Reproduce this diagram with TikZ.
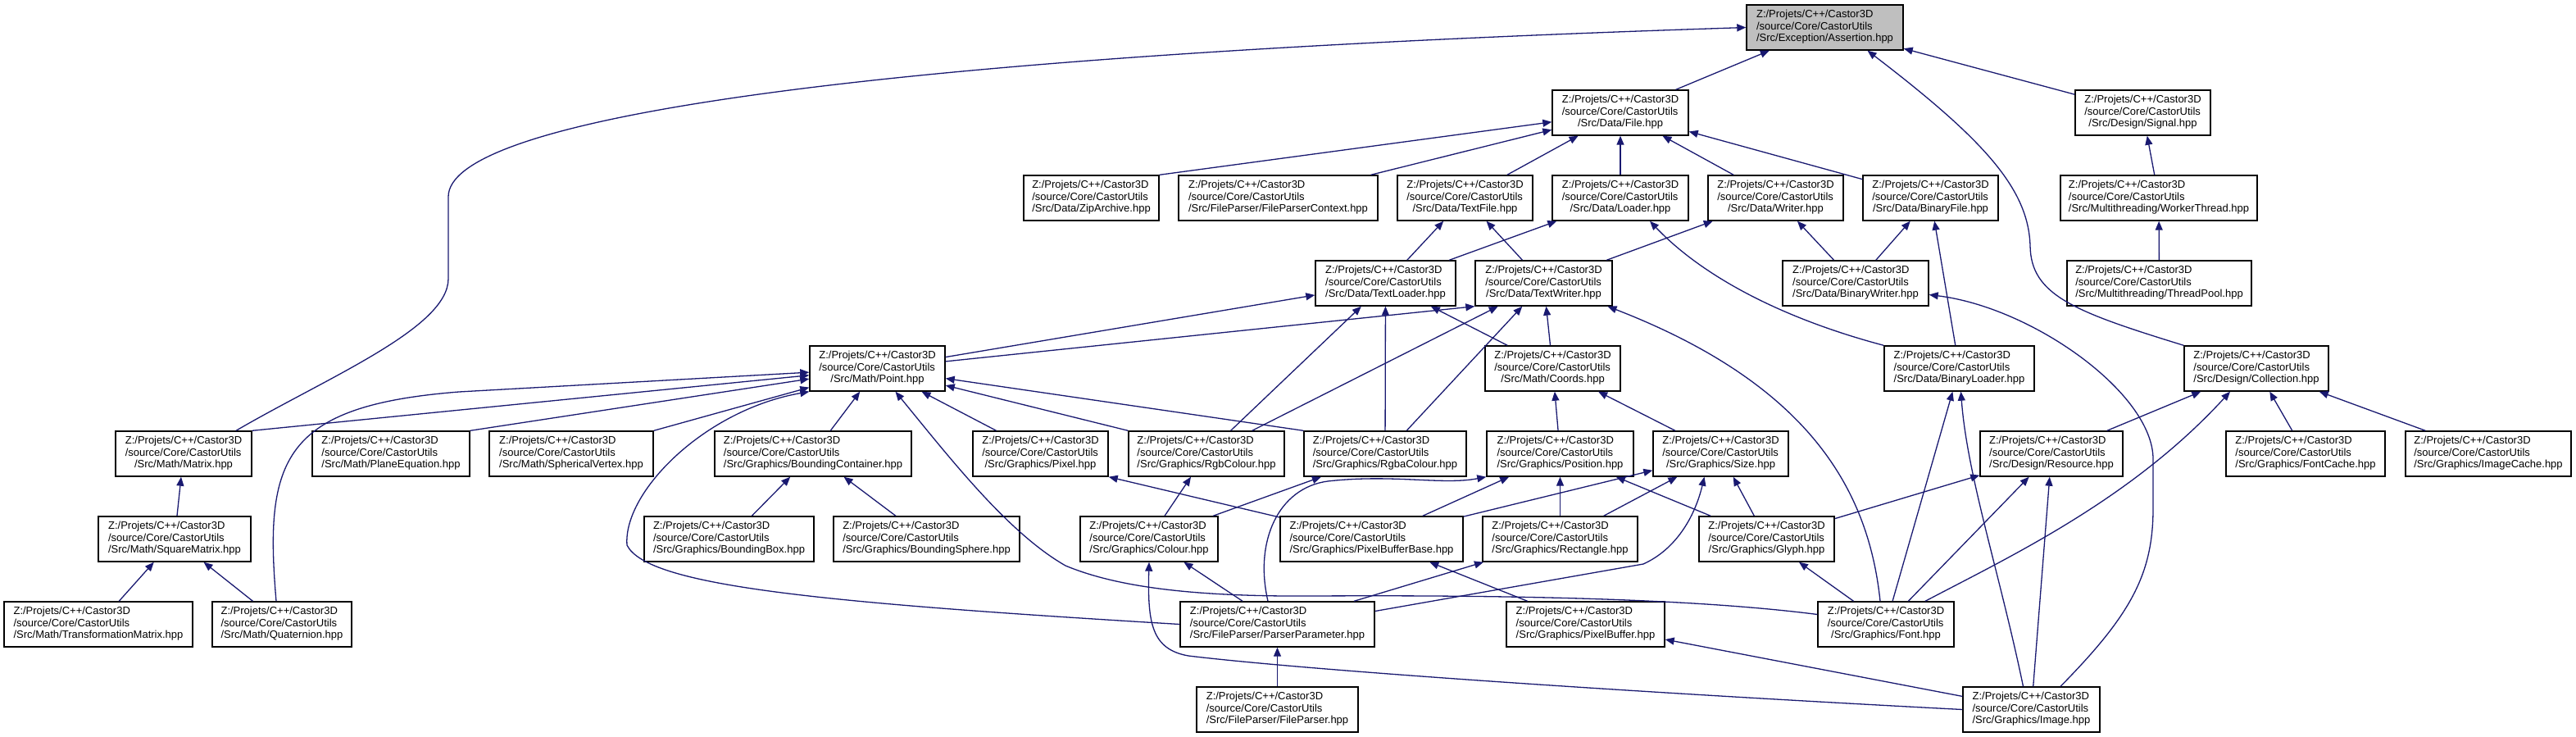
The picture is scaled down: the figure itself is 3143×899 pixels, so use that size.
\documentclass[tikz,border=0pt]{standalone}
\usepackage{fontspec}
\setmainfont{Liberation Sans}
\usepackage{tikz}
\usetikzlibrary{arrows.meta}
\usepackage{xcolor}
\definecolor{edgeblue}{HTML}{191970}
\definecolor{rootgrey}{HTML}{BFBFBF}
\newcommand{\hpath}[1]{\begin{tabular}{@{}l@{}}Z:/Projets/C++/Castor3D\\/source/Core/CastorUtils\\\multicolumn{1}{@{}c@{}}{#1}\end{tabular}}

\begin{document}
\begin{tikzpicture}[
    x=0.5pt, y=-0.5pt,
    hdr/.style={rectangle, draw=black, line width=0.7pt, fill=white, inner xsep=2pt, inner ysep=1pt, minimum height=27.5pt, font=\fontsize{6.5}{7.25}\selectfont},
    roothdr/.style={hdr, fill=rootgrey},
    incl/.style={draw=edgeblue, line width=0.65pt, -{Triangle[length=5.5pt,width=4.5pt]}}
]
    \useasboundingbox (0,0) rectangle (3143,899);

    \node[roothdr, minimum width=95.5pt] (assert) at (2226.5,33.5) {\hpath{/Src/Exception/Assertion.hpp}};

    \node[hdr, minimum width=83pt] (file) at (1977,137.5) {\hpath{/Src/Data/File.hpp}};
    \node[hdr, minimum width=82.5pt] (signal) at (2614.5,137.5) {\hpath{/Src/Design/Signal.hpp}};

    \node[hdr, minimum width=82.5pt] (zip) at (1331.5,241.5) {\hpath{/Src/Data/ZipArchive.hpp}};
    \node[hdr, minimum width=121.5pt] (fpctx) at (1559.5,241.5) {\hpath{/Src/FileParser/FileParserContext.hpp}};
    \node[hdr, minimum width=82.5pt] (textfile) at (1787.5,241.5) {\hpath{/Src/Data/TextFile.hpp}};
    \node[hdr, minimum width=83pt] (loader) at (1977,241.5) {\hpath{/Src/Data/Loader.hpp}};
    \node[hdr, minimum width=82.5pt] (writer) at (2166.5,241.5) {\hpath{/Src/Data/Writer.hpp}};
    \node[hdr, minimum width=82.5pt] (binfile) at (2355.5,241.5) {\hpath{/Src/Data/BinaryFile.hpp}};
    \node[hdr, minimum width=120pt] (worker) at (2634,241.5) {\hpath{/Src/Multithreading/WorkerThread.hpp}};

    \node[hdr, minimum width=85.5pt] (tloader) at (1690.5,345.5) {\hpath{/Src/Data/TextLoader.hpp}};
    \node[hdr, minimum width=83.5pt] (twriter) at (1883.5,345.5) {\hpath{/Src/Data/TextWriter.hpp}};
    \node[hdr, minimum width=89pt] (bwriter) at (2264,345.5) {\hpath{/Src/Data/BinaryWriter.hpp}};
    \node[hdr, minimum width=112.5pt] (tpool) at (2634.5,345.5) {\hpath{/Src/Multithreading/ThreadPool.hpp}};

    \node[hdr, minimum width=82.5pt] (point) at (1070.5,449.5) {\hpath{/Src/Math/Point.hpp}};
    \node[hdr, minimum width=82.5pt] (coords) at (1894.5,449.5) {\hpath{/Src/Math/Coords.hpp}};
    \node[hdr, minimum width=91.5pt] (bloader) at (2390.5,449.5) {\hpath{/Src/Data/BinaryLoader.hpp}};
    \node[hdr, minimum width=88pt] (collection) at (2753,449.5) {\hpath{/Src/Design/Collection.hpp}};

    \node[hdr, minimum width=83pt] (matrix) at (224,553.5) {\hpath{/Src/Math/Matrix.hpp}};
    \node[hdr, minimum width=96pt] (planeeq) at (477,553.5) {\hpath{/Src/Math/PlaneEquation.hpp}};
    \node[hdr, minimum width=100pt] (svertex) at (697,553.5) {\hpath{/Src/Math/SphericalVertex.hpp}};
    \node[hdr, minimum width=120pt] (bcont) at (992,553.5) {\hpath{/Src/Graphics/BoundingContainer.hpp}};
    \node[hdr, minimum width=82.5pt] (pixel) at (1269.5,553.5) {\hpath{/Src/Graphics/Pixel.hpp}};
    \node[hdr, minimum width=95pt] (rgb) at (1472,553.5) {\hpath{/Src/Graphics/RgbColour.hpp}};
    \node[hdr, minimum width=99pt] (rgba) at (1690,553.5) {\hpath{/Src/Graphics/RgbaColour.hpp}};
    \node[hdr, minimum width=89.5pt] (position) at (1903.5,553.5) {\hpath{/Src/Graphics/Position.hpp}};
    \node[hdr, minimum width=82.5pt] (size) at (2099.5,553.5) {\hpath{/Src/Graphics/Size.hpp}};
    \node[hdr, minimum width=87pt] (resource) at (2503,553.5) {\hpath{/Src/Design/Resource.hpp}};
    \node[hdr, minimum width=97pt] (fcache) at (2813,553.5) {\hpath{/Src/Graphics/FontCache.hpp}};
    \node[hdr, minimum width=101pt] (icache) at (3036,553.5) {\hpath{/Src/Graphics/ImageCache.hpp}};

    \node[hdr, minimum width=93pt] (smatrix) at (213,657.5) {\hpath{/Src/Math/SquareMatrix.hpp}};
    \node[hdr, minimum width=103.5pt] (bbox) at (889.5,657.5) {\hpath{/Src/Graphics/BoundingBox.hpp}};
    \node[hdr, minimum width=113.5pt] (bsphere) at (1130.5,657.5) {\hpath{/Src/Graphics/BoundingSphere.hpp}};
    \node[hdr, minimum width=84pt] (colour) at (1402,657.5) {\hpath{/Src/Graphics/Colour.hpp}};
    \node[hdr, minimum width=111.5pt] (pbbase) at (1673.5,657.5) {\hpath{/Src/Graphics/PixelBufferBase.hpp}};
    \node[hdr, minimum width=94.5pt] (rectangle) at (1903.5,657.5) {\hpath{/Src/Graphics/Rectangle.hpp}};
    \node[hdr, minimum width=82.5pt] (glyph) at (2155.5,657.5) {\hpath{/Src/Graphics/Glyph.hpp}};

    \node[hdr, minimum width=115pt] (tmatrix) at (120,761.5) {\hpath{/Src/Math/TransformationMatrix.hpp}};
    \node[hdr, minimum width=85pt] (quat) at (344,761.5) {\hpath{/Src/Math/Quaternion.hpp}};
    \node[hdr, minimum width=118.5pt] (ppar) at (1558.5,761.5) {\hpath{/Src/FileParser/ParserParameter.hpp}};
    \node[hdr, minimum width=96.5pt] (pbuffer) at (1934.5,761.5) {\hpath{/Src/Graphics/PixelBuffer.hpp}};
    \node[hdr, minimum width=83pt] (font) at (2301,761.5) {\hpath{/Src/Graphics/Font.hpp}};

    \node[hdr, minimum width=98.5pt] (fparser) at (1558.5,865.5) {\hpath{/Src/FileParser/FileParser.hpp}};
    \node[hdr, minimum width=83.5pt] (image) at (2478.5,865.5) {\hpath{/Src/Graphics/Image.hpp}};

    % included by Assertion.hpp
    \draw[incl] (file) -- (assert);
    \draw[incl] (signal) -- (assert);
    \draw[incl] ([xshift=32pt]matrix.north) .. controls (400,460) and (547,400) .. (547,340) -- (547,240) .. controls (547,150) and (1000,70) .. (assert.west);
    \draw[incl] (collection.north west) .. controls (2530,380) and (2478,360) .. (2477,300) .. controls (2475,230) and (2420,170) .. ([xshift=26pt]assert.south);

    \draw[incl] (zip.north east) -- (file);
    \draw[incl] (fpctx) -- (file);
    \draw[incl] (textfile) -- (file);
    \draw[incl] (loader) -- (file);
    \draw[incl] (writer) -- (file);
    \draw[incl] (binfile) -- (file);
    \draw[incl] (worker) -- (signal);
    \draw[incl] (tpool) -- (worker);

    \draw[incl] (tloader) -- (textfile);
    \draw[incl] (twriter) -- (textfile);
    \draw[incl] (tloader) -- (loader);
    \draw[incl] (bloader.north west) .. controls (2180,390) and (2080,340) .. ([xshift=18pt]loader.south);
    \draw[incl] (twriter) -- (writer);
    \draw[incl] (bwriter) -- (writer);
    \draw[incl] (bwriter) -- (binfile);
    \draw[incl] (bloader) -- (binfile);

    \draw[incl] (point) -- (tloader);
    \draw[incl] (point) -- (twriter.south west);
    \draw[incl] (rgb) -- (tloader);
    \draw[incl] (rgb) -- (twriter);
    \draw[incl] (rgba) -- (tloader);
    \draw[incl] (rgba) -- (twriter);
    \draw[incl] (coords) -- (tloader);
    \draw[incl] (coords) -- (twriter);
    \draw[incl] ([xshift=-3.5pt]font.north) .. controls (2280,600) and (2210,470) .. ([xshift=39pt]twriter.south);
    \draw[incl] ([xshift=17.75pt]image.north) .. controls (2600,750) and (2627,700) .. (2627,620) -- (2627,560) .. controls (2627,480) and (2480,375) .. ([yshift=-7pt]bwriter.east);

    % included by Point.hpp
    \draw[incl] (matrix.north east) -- (point);
    \draw[incl] (planeeq.north east) -- (point);
    \draw[incl] (svertex.north east) -- (point);
    \draw[incl] (bcont) -- (point);
    \draw[incl] (pixel) -- (point);
    \draw[incl] (rgb.north west) -- (point);
    \draw[incl] (rgba.north west) -- (point);
    \draw[incl] ([xshift=-3.5pt]quat.north) .. controls (322,560) and (345,495) .. (560,478) -- (point);
    \draw[incl] (ppar.west) .. controls (1000,735) and (790,715) .. (765,665) .. controls (760,600) and (860,500) .. (point.south west);
    \draw[incl] ([yshift=6pt]font.west) .. controls (2050,728) and (1800,726) .. (1600,727) .. controls (1450,728) and (1360,715) .. (1300,690) .. controls (1230,650) and (1160,560) .. ([xshift=11pt]point.south);

    \draw[incl] (position) -- (coords);
    \draw[incl] (size) -- (coords);
    \draw[incl] (font) -- (bloader);
    \draw[incl] ([xshift=-5pt]image.north) .. controls (2440,700) and (2400,580) .. ([xshift=1pt]bloader.south);
    \draw[incl] (resource) -- (collection);
    \draw[incl] ([xshift=24pt]font.north) .. controls (2450,680) and (2600,610) .. ([xshift=-16pt]collection.south);
    \draw[incl] (fcache) -- (collection);
    \draw[incl] (icache) -- (collection);

    \draw[incl] (smatrix) -- (matrix);
    \draw[incl] (tmatrix) -- (smatrix);
    \draw[incl] (quat) -- (smatrix);
    \draw[incl] (bbox) -- (bcont);
    \draw[incl] (bsphere) -- (bcont);
    \draw[incl] (pbbase) -- (pixel.south east);
    \draw[incl] (colour) -- (rgb);
    \draw[incl] (colour) -- (rgba);

    \draw[incl] (pbbase) -- (position);
    \draw[incl] (rectangle) -- (position);
    \draw[incl] (glyph) -- (position);
    \draw[incl] ([xshift=-5.75pt]ppar.north) .. controls (1530,660) and (1560,595) .. (1620,587) .. controls (1700,578) and (1760,592) .. (position.south west);
    \draw[incl] (pbbase) -- (size);
    \draw[incl] (rectangle) -- (size);
    \draw[incl] (glyph) -- (size);
    \draw[incl] ([yshift=8pt]ppar.east) -- (2005,688) .. controls (2045,670) and (2068,630) .. ([xshift=-10pt]size.south);
    \draw[incl] (glyph) -- (resource);
    \draw[incl] (font) -- (resource);
    \draw[incl] (image) -- (resource);

    \draw[incl] (ppar) -- (colour);
    \draw[incl] (image.west) .. controls (2000,845) and (1600,818) .. (1450,800) .. controls (1405,792) and (1400,760) .. (colour.south);
    \draw[incl] (ppar) -- (rectangle);
    \draw[incl] (pbuffer) -- (pbbase);
    \draw[incl] (font) -- (glyph);
    \draw[incl] (fparser) -- (ppar);
    \draw[incl] (image) -- (pbuffer);
\end{tikzpicture}
\end{document}
